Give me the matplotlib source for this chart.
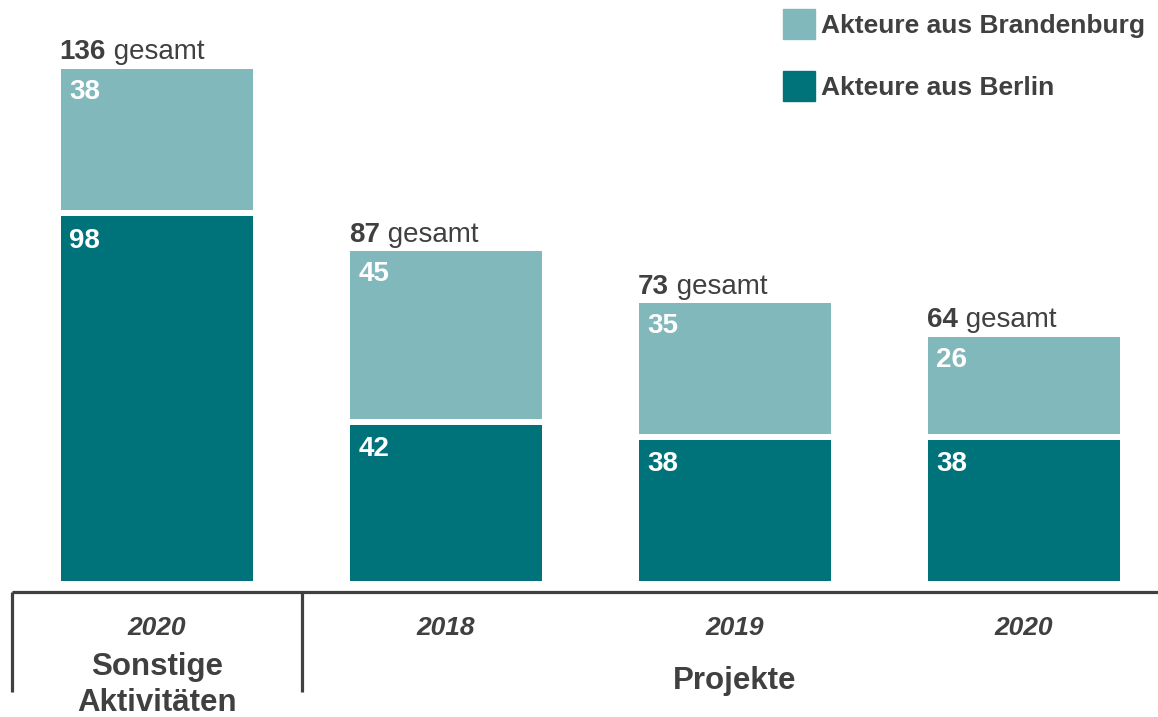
import matplotlib.pyplot as plt
from matplotlib.lines import Line2D
from matplotlib.patches import Patch

# Daten
jahre = ["2020", "2018", "2019", "2020"]
berlin = [98, 42, 38, 38]
brandenburg = [38, 45, 35, 26]
gruppen = ["Sonstige\nAktivitäten", "Projekte"]
gruppen_pos = [0, 2]

dunkel = "#00737A"
hell = "#80B8BC"
grau = "#404040"

plt.rcParams["font.family"] = ["Liberation Sans", "DejaVu Sans"]

W, H = 1158, 717
fig = plt.figure(figsize=(W / 100, H / 100), dpi=100)
# Achse: unten = Balkenbasis (581 px), volle Breite ab 12 px
ax = fig.add_axes([12 / W, 1 - 581 / H, 1 - 12 / W, 581 / H])
px_pro_einheit = 3.72
ax.set_ylim(0, 581 / px_pro_einheit)
ax.set_xlim(-145 / 289, -145 / 289 + 1146 / 289)
ax.axis("off")

x = list(range(len(berlin)))
breite = 0.664
luecke = 6 / px_pro_einheit

bars_b = ax.bar(x, berlin, width=breite, color=dunkel, linewidth=0)
unten = [b + luecke for b in berlin]
bars_bb = ax.bar(x, brandenburg, width=breite, bottom=unten, color=hell, linewidth=0)

for i in x:
    links = i - breite / 2
    oben_b = berlin[i]
    oben_bb = unten[i] + brandenburg[i]
    ax.annotate(str(berlin[i]), xy=(links, oben_b), xytext=(6, -8),
                textcoords="offset points", ha="left", va="top",
                color="white", fontsize=20, fontweight="bold")
    ax.annotate(str(brandenburg[i]), xy=(links, oben_bb), xytext=(6, -7),
                textcoords="offset points", ha="left", va="top",
                color="white", fontsize=20, fontweight="bold")
    gesamt = berlin[i] + brandenburg[i]
    t = ax.annotate(str(gesamt), xy=(links, oben_bb), xytext=(-1, 7),
                    textcoords="offset points", ha="left", va="baseline",
                    color=grau, fontsize=20, fontweight="bold",
                    annotation_clip=False)
    ax.annotate(" gesamt", xy=(1, 0), xycoords=t, ha="left", va="bottom",
                color=grau, fontsize=20)

# Jahre und Gruppen unter der Achse
trans = ax.get_xaxis_transform()
for i, j in enumerate(jahre):
    ax.text(i, -47 / 581, j, transform=trans, ha="center", va="center",
            fontsize=19, fontweight="bold", fontstyle="italic", color=grau,
            clip_on=False)
ax.text(gruppen_pos[0], -104 / 581, gruppen[0], transform=trans, ha="center",
        va="center", fontsize=22.5, fontweight="bold", color=grau,
        linespacing=1.22, clip_on=False)
ax.text(gruppen_pos[1], -100 / 581, gruppen[1], transform=trans, ha="center",
        va="center", fontsize=22.5, fontweight="bold", color=grau, clip_on=False)

# Achsenlinie und Trenner
y_linie = 1 - 592 / H
y_ende = 1 - 692 / H
fig.add_artist(Line2D([12 / W, 1], [y_linie, y_linie], color=grau, lw=2.3,
                      solid_capstyle="butt"))
for xp in [12, 302]:
    fig.add_artist(Line2D([xp / W, xp / W], [y_linie, y_ende], color=grau,
                          lw=2.3, solid_capstyle="butt"))

# Legende
handles = [Patch(color=hell), Patch(color=dunkel)]
labels = ["Akteure aus Brandenburg", "Akteure aus Berlin"]
leg = fig.legend(handles, labels, loc="upper left",
                 bbox_to_anchor=(783 / W, 1 - 9 / H), frameon=False,
                 borderpad=0, borderaxespad=0, handlelength=1.22,
                 handleheight=1.38, handletextpad=0.22, labelspacing=1.2,
                 prop={"size": 19, "weight": "bold"})
for txt in leg.get_texts():
    txt.set_color(grau)

plt.savefig("out.png", dpi=100)
